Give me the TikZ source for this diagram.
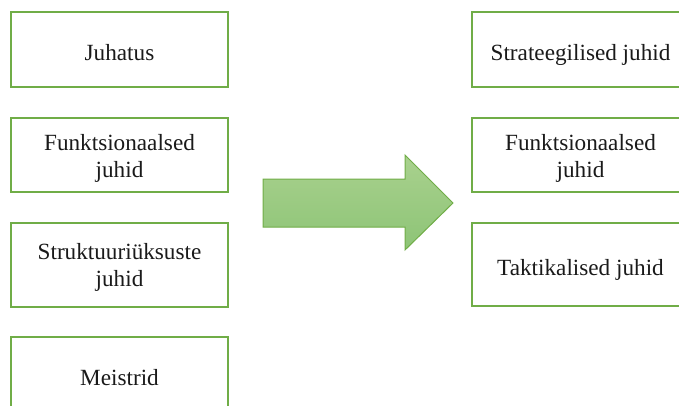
\documentclass[tikz,border=0pt]{standalone}
\usepackage{fontspec}
\setmainfont{Liberation Serif}
\definecolor{boxgreen}{HTML}{70AD47}
\definecolor{arrowtop}{HTML}{A9D18E}
\definecolor{arrowbot}{HTML}{8DC476}
\definecolor{ink}{HTML}{1A1A1A}
% struts that give every label the same vertical placement in its box
\newcommand\onegap{\rule[-5.5pt]{0pt}{33pt}}
\newcommand\twogap{\rule{0pt}{22pt}}
\begin{document}
\begin{tikzpicture}[x=1pt,y=-1pt,
  box/.style={draw=boxgreen,line width=2pt,fill=white,minimum width=217pt,
    align=center,text=ink,inner sep=0pt,
    font=\fontsize{23.2pt}{27pt}\selectfont}]
\useasboundingbox (0,0) rectangle (679,406);
\clip (0,0) rectangle (679,406);
% left column
\node[box,minimum height=75pt] (juhatus) at (119.5,49.5) {\onegap Juhatus};
\node[box,minimum height=74pt] (funkL) at (119.5,155) {\twogap Funktsionaalsed\\juhid};
\node[box,minimum height=84pt] (struk) at (119.5,264.5) {\twogap Struktuuriüksuste\\juhid};
\node[box,minimum height=75pt] (meist) at (119.5,374.5) {\onegap Meistrid};
% right column
\node[box,minimum height=75pt] (strat) at (580.5,49.5) {\onegap Strateegilised juhid};
\node[box,minimum height=74pt] (funkR) at (580.5,155) {\twogap Funktsionaalsed\\juhid};
\node[box,minimum height=83pt] (takt) at (580.5,264.5) {\onegap Taktikalised juhid};
% block arrow between the columns
\draw[boxgreen,line width=1pt,top color=arrowtop,bottom color=arrowbot]
  (263,179) -- (405,179) -- (405,155) -- (453,203) -- (405,250)
  -- (405,227) -- (263,227) -- cycle;
\end{tikzpicture}
\end{document}
